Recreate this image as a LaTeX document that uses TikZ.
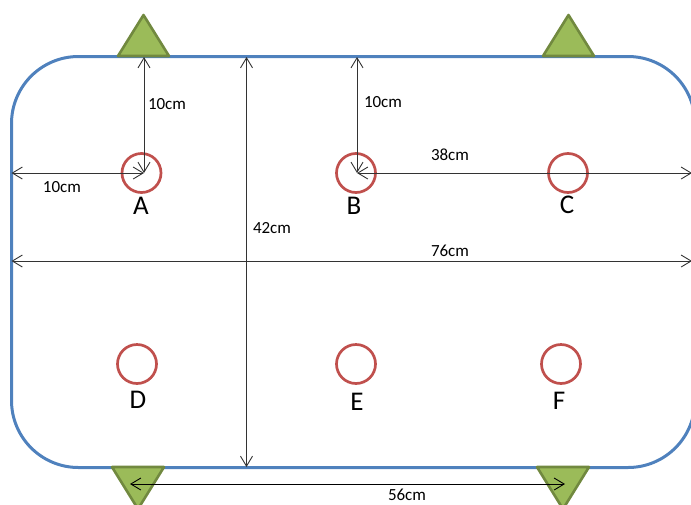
\documentclass[tikz,border=0pt]{standalone}
\usepackage{fontspec}
\setmainfont{Carlito}
\usetikzlibrary{arrows.meta}

\definecolor{outlineblue}{HTML}{4F81BD}
\definecolor{holered}{HTML}{C0504D}
\definecolor{legfill}{HTML}{9BBB59}
\definecolor{legline}{HTML}{71893F}

\tikzset{
    hole/.style={circle, draw=holered, line width=2.7pt, minimum size=39pt, inner sep=0pt},
    letter/.style={font=\fontsize{27}{27}\selectfont, inner sep=0pt},
    dim/.style={font=\fontsize{17}{17}\selectfont, inner sep=0pt},
    leg/.style={draw=legline, fill=legfill, line width=2.6pt, line join=round},
    measure/.style={black!80, line width=0.9pt, {Straight Barb[length=10pt,width=12pt]}-{Straight Barb[length=10pt,width=12pt]}}
}

\begin{document}
\begin{tikzpicture}[x=1pt, y=-1pt]
        \useasboundingbox (0,0) rectangle (691,504);
        \clip (0,0) rectangle (691,504);

        \draw [outlineblue, line width=3pt, rounded corners=67pt] (11.5,56.5) rectangle (695,467.5);

        \draw [leg] (118,56) -- (143.5,15) -- (169,56) -- cycle;
        \draw [leg] (543,56) -- (568.5,15) -- (594,56) -- cycle;
        \draw [leg] (112,467) -- (138,509) -- (164,467) -- cycle;
        \draw [leg] (537,467) -- (563,509) -- (589,467) -- cycle;

        \node [hole] (holeA) at (141.5,173) {};
        \node [hole] (holeB) at (356,173) {};
        \node [hole] (holeC) at (568,173) {};
        \node [hole] (holeD) at (137,364) {};
        \node [hole] (holeE) at (356,364) {};
        \node [hole] (holeF) at (561,364) {};

        \node [letter] (nameA) at (141,206) {A};
        \node [letter] (nameB) at (354,206) {B};
        \node [letter] (nameC) at (567,205) {C};
        \node [letter] (nameD) at (138,400) {D};
        \node [letter] (nameE) at (357,402) {E};
        \node [letter] (nameF) at (559,401) {F};

        \coordinate (edgeL) at (11.5,173);
        \coordinate (pinA) at (144,173);
        \coordinate (topA) at (144,57);
        \coordinate (pinB) at (357,173);
        \coordinate (topB) at (357,57);
        \coordinate (edgeR) at (692,173);
        \coordinate (topM) at (246.5,57);
        \coordinate (botM) at (246.5,467);
        \coordinate (midL) at (11.5,261);
        \coordinate (midR) at (692,261);
        \coordinate (legD) at (130,484);
        \coordinate (legF) at (565,484);

        \draw [measure] (edgeL) -- (pinA);
        \draw [measure] (topA) -- (pinA);
        \draw [measure] (topB) -- (pinB);
        \draw [measure] (pinB) -- (edgeR);
        \draw [measure] (topM) -- (botM);
        \draw [measure] (midL) -- (midR);
        \draw [measure, black] (legD) -- (legF);

        \node [dim] (dimAtop) at (167,104) {10cm};
        \node [dim] (dimAleft) at (62,187) {10cm};
        \node [dim] (dimBtop) at (383,102) {10cm};
        \node [dim] (dimBright) at (450,155) {38cm};
        \node [dim] (dimH) at (272,228) {42cm};
        \node [dim] (dimW) at (450,251) {76cm};
        \node [dim] (dimLeg) at (407,495) {56cm};
    \end{tikzpicture}
\end{document}
